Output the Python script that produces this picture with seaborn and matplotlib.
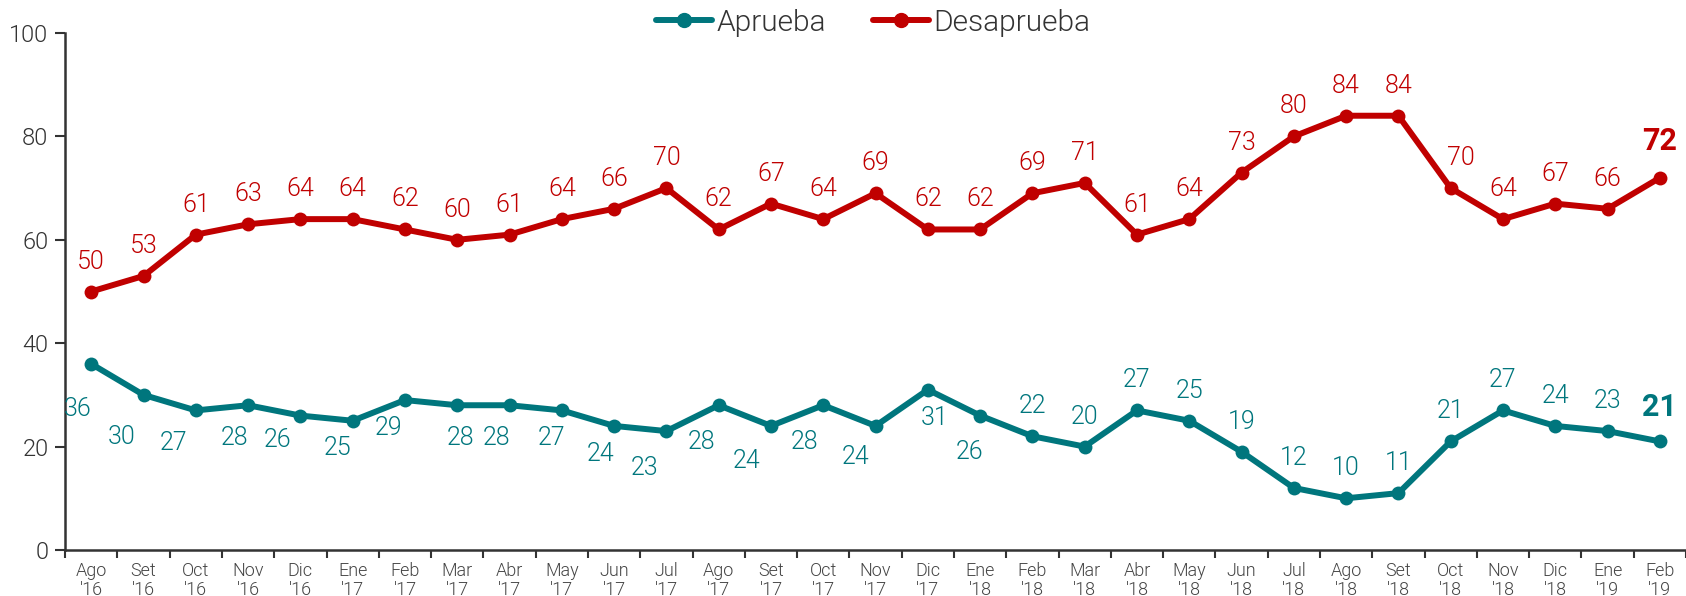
import matplotlib
matplotlib.use("Agg")
import matplotlib.pyplot as plt
import seaborn as sns
import pandas as pd
import numpy as np
from matplotlib.lines import Line2D

months = ["Ago\n'16", "Set\n'16", "Oct\n'16", "Nov\n'16", "Dic\n'16",
          "Ene\n'17", "Feb\n'17", "Mar\n'17", "Abr\n'17", "May\n'17", "Jun\n'17", "Jul\n'17",
          "Ago\n'17", "Set\n'17", "Oct\n'17", "Nov\n'17", "Dic\n'17",
          "Ene\n'18", "Feb\n'18", "Mar\n'18", "Abr\n'18", "May\n'18", "Jun\n'18", "Jul\n'18",
          "Ago\n'18", "Set\n'18", "Oct\n'18", "Nov\n'18", "Dic\n'18",
          "Ene\n'19", "Feb\n'19"]
aprueba = [36, 30, 27, 28, 26, 25, 29, 28, 28, 27, 24, 23, 28, 24, 28, 24, 31, 26,
           22, 20, 27, 25, 19, 12, 10, 11, 21, 27, 24, 23, 21]
desaprueba = [50, 53, 61, 63, 64, 64, 62, 60, 61, 64, 66, 70, 62, 67, 64, 69, 62, 62,
              69, 71, 61, 64, 73, 80, 84, 84, 70, 64, 67, 66, 72]

# label offsets (pixels) for the Aprueba labels placed below the line
below_dx = [-14, -22, -22, -14, -23, -15, -16, 3, -13, -10, -13, -22, -17, -24, -19, -20, 7, -11]
below_dy = [-45, -42, -33, -33, -24, -27, -28, -33, -33, -28, -28, -37, -37, -35, -37, -31, -28, -36]

TEAL = "#00767D"
RED = "#C00000"
TXT = "#333333"

sns.set_theme(style="white")
plt.rcParams['font.family'] = ['Roboto', 'DejaVu Sans']

n = len(months)
idx = np.arange(n)
df = pd.DataFrame({
    "x": np.concatenate([idx, idx]),
    "valor": aprueba + desaprueba,
    "serie": ["Aprueba"]*n + ["Desaprueba"]*n,
})

fig = plt.figure(figsize=(16.86, 5.96), dpi=100)
ax = fig.add_axes([0.0386, 0.0772, 0.9614, 0.8674])

sns.lineplot(data=df, x="x", y="valor", hue="serie", palette=[TEAL, RED],
             marker="o", markersize=10, markeredgewidth=0, linewidth=4.3,
             ax=ax, legend=False)

for i, v in enumerate(desaprueba):
    last = i == n - 1
    dx = 10 if i == 26 else 0
    ax.annotate(str(v), (i, v), xytext=(dx, 30 if not last else 37), textcoords="offset pixels",
                ha="center", va="center", color=RED,
                fontsize=22 if last else 18, fontweight="bold" if last else 300)
for i, v in enumerate(aprueba):
    last = i == n - 1
    if i < len(below_dx):
        dx, dy = below_dx[i], below_dy[i]
    else:
        dx, dy = 0, (30 if not last else 34)
    ax.annotate(str(v), (i, v), xytext=(dx, dy), textcoords="offset pixels",
                ha="center", va="center", color=TEAL,
                fontsize=22 if last else 18, fontweight="bold" if last else 300)

ax.set_xlim(-0.5, n - 0.55)
ax.set_ylim(0, 100)
ax.set_yticks([0, 20, 40, 60, 80, 100])
ax.set_xticks(idx)
ax.set_xticklabels(months, fontsize=13, color="#444444", fontweight=300, linespacing=1.05)
ax.set_xticks(np.arange(-0.5, n, 1), minor=True)
ax.tick_params(axis="x", which="major", length=0, pad=9)
ax.tick_params(axis="x", which="minor", length=6, width=1.5, color=TXT, direction="out", bottom=True)
ax.tick_params(axis="y", length=7, width=1.5, color=TXT, labelsize=17, labelcolor=TXT, left=True, pad=5)
for lab in ax.get_yticklabels():
    lab.set_fontweight(300)
ax.set_xlabel("")
ax.set_ylabel("")
sns.despine(ax=ax, top=True, right=True)
for s in ("left", "bottom"):
    ax.spines[s].set_color(TXT)
    ax.spines[s].set_linewidth(1.8)

handles = [Line2D([], [], color=TEAL, lw=4.3, marker="o", markersize=10),
           Line2D([], [], color=RED, lw=4.3, marker="o", markersize=10)]
leg = fig.legend(handles, ["Aprueba", "Desaprueba"], loc="center", bbox_to_anchor=(0.518, 0.962),
                 ncol=2, frameon=False, fontsize=21.5, handlelength=1.85, handletextpad=0.15,
                 columnspacing=1.6)
for t in leg.get_texts():
    t.set_color(TXT)
    t.set_fontweight(300)

fig.savefig("out.png", dpi=100)
